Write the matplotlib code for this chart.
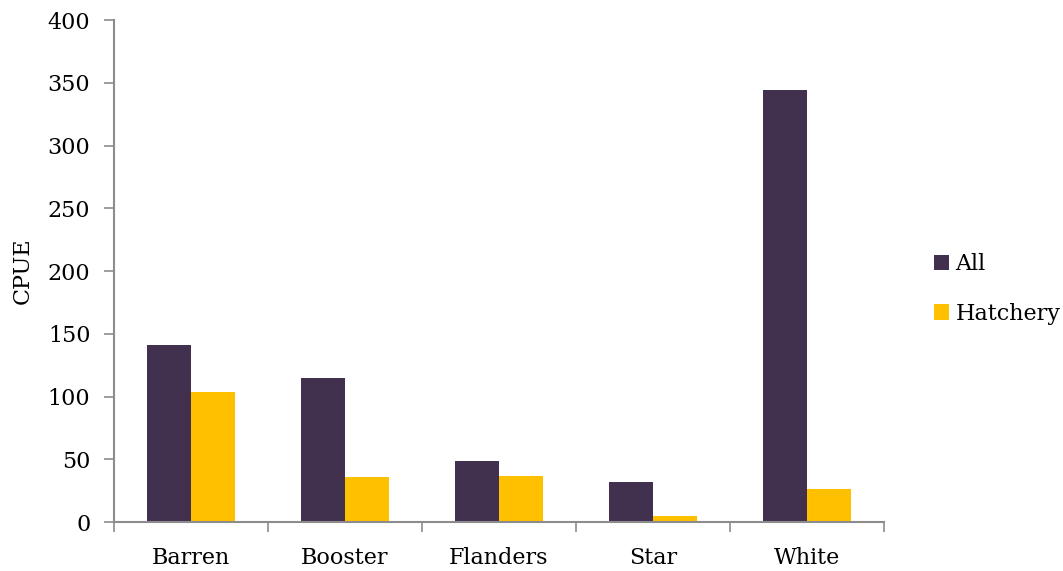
import matplotlib
matplotlib.use("Agg")
import matplotlib.pyplot as plt
import numpy as np

# CPUE by site for all fish and hatchery fish
sites = ["Barren", "Booster", "Flanders", "Star", "White"]
cpue_all = [141, 115, 49, 32, 344]
cpue_hatchery = [104, 36, 37, 5, 26]
y_ticks = [0, 50, 100, 150, 200, 250, 300, 350, 400]

color_all = "#41314F"
color_hatchery = "#FFC000"
axis_color = "#8C8C8C"

plt.rcParams["font.family"] = ["DejaVu Serif"]

fig = plt.figure(figsize=(10.63, 5.71), dpi=100)
ax = fig.add_axes([0.1072, 0.0858, 0.7244, 0.879])

x = np.arange(len(sites))
width = 0.286
ax.bar(x - width / 2, cpue_all, width, color=color_all, label="All")
ax.bar(x + width / 2, cpue_hatchery, width, color=color_hatchery, label="Hatchery")

ax.set_xlim(-0.5, len(sites) - 0.5)
ax.set_ylim(0, 400)
ax.set_yticks(y_ticks)
ax.tick_params(axis="y", direction="out", length=7, width=1.2, color=axis_color,
               labelsize=16, pad=10)

# category separators as major ticks, names as minor ticks
ax.set_xticks(np.arange(-0.5, len(sites), 1.0))
ax.set_xticklabels([])
ax.set_xticks(x, minor=True)
ax.set_xticklabels(sites, minor=True)
ax.tick_params(axis="x", which="major", direction="out", length=7, width=1.2, color=axis_color)
ax.tick_params(axis="x", which="minor", length=0, labelsize=16, pad=18)

for side in ("top", "right"):
    ax.spines[side].set_visible(False)
for side in ("left", "bottom"):
    ax.spines[side].set_color(axis_color)
    ax.spines[side].set_linewidth(1.5)

ax.set_ylabel("CPUE", fontsize=16, labelpad=10)

fig.legend(loc="center left", bbox_to_anchor=(0.870, 0.494), frameon=False,
           fontsize=16, handlelength=0.68, handleheight=0.68, handletextpad=0.3,
           labelspacing=1.25, borderaxespad=0)

fig.savefig("out.png", dpi=100)
